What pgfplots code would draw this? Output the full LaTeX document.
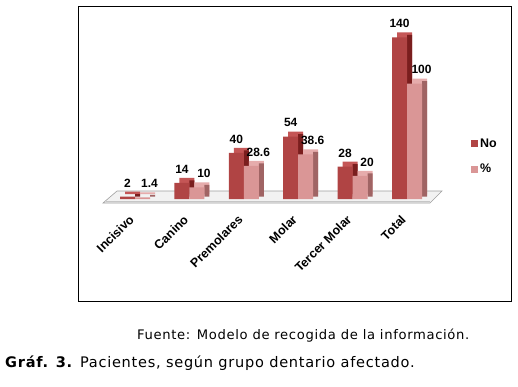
\documentclass[border=0pt]{standalone}
\usepackage{pgfplots}
\pgfplotsset{compat=1.18}
\usepackage{fontspec}
\setmainfont{Liberation Sans}
\newfontfamily\verd[LetterSpace=5]{DejaVu Sans}
\definecolor{nored}{RGB}{176,68,68}
\definecolor{notop}{RGB}{196,86,86}
\definecolor{noside}{RGB}{122,30,30}
\definecolor{pct}{RGB}{218,150,150}
\definecolor{pcttop}{RGB}{230,172,172}
\definecolor{pctside}{RGB}{160,100,100}
\begin{document}
\begin{tikzpicture}[x=1bp,y=1bp]
\path[use as bounding box] (0,0) rectangle (518,386);
\fill[white] (0,0) rectangle (518,386);
\draw[line width=1bp] (78,85) rectangle (511,379);
% floor
\fill[gray!10] (103,183) -- (117,195) -- (442,195) -- (430,183) -- cycle;
\draw[gray!75, line width=0.6bp] (103,183) -- (117,195) -- (442,195) -- (430,183) -- cycle;
\draw[gray!45, line width=0.5bp] (106,185) -- (430,185);
\begin{axis}[
  at={(135bp,187bp)}, anchor=south west, scale only axis,
  width=272bp, height=161.7bp,
  xmin=0, xmax=5, ymin=0, ymax=140,
  clip=false, axis line style={draw=none},
  ytick=\empty, xtick={0,1,2,3,4,5},
  xticklabels={Incisivo,Canino,Premolares,Molar,Tercer Molar,Total},
  major tick length=0pt,
  xticklabel style={font=\fontsize{12.5}{14}\selectfont\bfseries, yshift=-16bp, xshift=-1bp, rotate=45, anchor=east},
  ybar, bar width=15bp,
  legend style={at={(1.235,0.385)}, anchor=north west, draw=none, fill=none,
    font=\fontsize{12.5}{14}\selectfont\bfseries, row sep=11bp, inner sep=0pt},
  legend cell align=left,
]
% No: top, side, front
\addplot[forget plot, fill=notop, draw=none, bar shift=-7.5bp, xshift=5bp, yshift=5bp]
  coordinates {(0,2) (1,14) (2,40) (3,54) (4,28) (5,140)};
\addplot[forget plot, fill=noside, draw=none, bar width=5bp, bar shift=2.5bp, yshift=2.5bp]
  coordinates {(0,2) (1,14) (2,40) (3,54) (4,28) (5,140)};
\addplot[fill=nored, draw=none, bar shift=-7.5bp,
  legend image code/.code={\fill[nored] (0bp,-3.5bp) rectangle (7bp,3.5bp);},
  nodes near coords, point meta=explicit symbolic,
  every node near coord/.append style={font=\fontsize{12}{14}\selectfont\bfseries, yshift=6bp, text=black}]
  coordinates {(0,2) [2] (1,14) [14] (2,40) [40] (3,54) [54] (4,28) [28] (5,140) [140]};
\addlegendentry{No}
% %: top, side, front
\addplot[forget plot, fill=pcttop, draw=none, bar shift=7.5bp, xshift=5bp, yshift=5bp]
  coordinates {(0,1.4) (1,10) (2,28.6) (3,38.6) (4,20) (5,100)};
\addplot[forget plot, fill=pctside, draw=none, bar width=5bp, bar shift=17.5bp, yshift=2.5bp]
  coordinates {(0,1.4) (1,10) (2,28.6) (3,38.6) (4,20) (5,100)};
\addplot[fill=pct, draw=none, bar shift=7.5bp,
  legend image code/.code={\fill[pct] (0bp,-3.5bp) rectangle (7bp,3.5bp);},
  nodes near coords, point meta=explicit symbolic,
  every node near coord/.append style={font=\fontsize{12}{14}\selectfont\bfseries, yshift=6bp, xshift=7bp, text=black}]
  coordinates {(0,1.4) [1.4] (1,10) [10] (2,28.6) [28.6] (3,38.6) [38.6] (4,20) [20] (5,100) [100]};
\addlegendentry{\%}
\end{axis}
\node[anchor=base west, inner sep=0pt, font=\verd\fontsize{13.2}{15}\selectfont] at (137,47) {Fuente: Modelo de recogida de la información.};
\node[anchor=base west, inner sep=0pt, font=\verd\fontsize{14.6}{16}\selectfont] at (5,19) {\textbf{Gráf. 3.} Pacientes, según grupo dentario afectado.};
\end{tikzpicture}
\end{document}
